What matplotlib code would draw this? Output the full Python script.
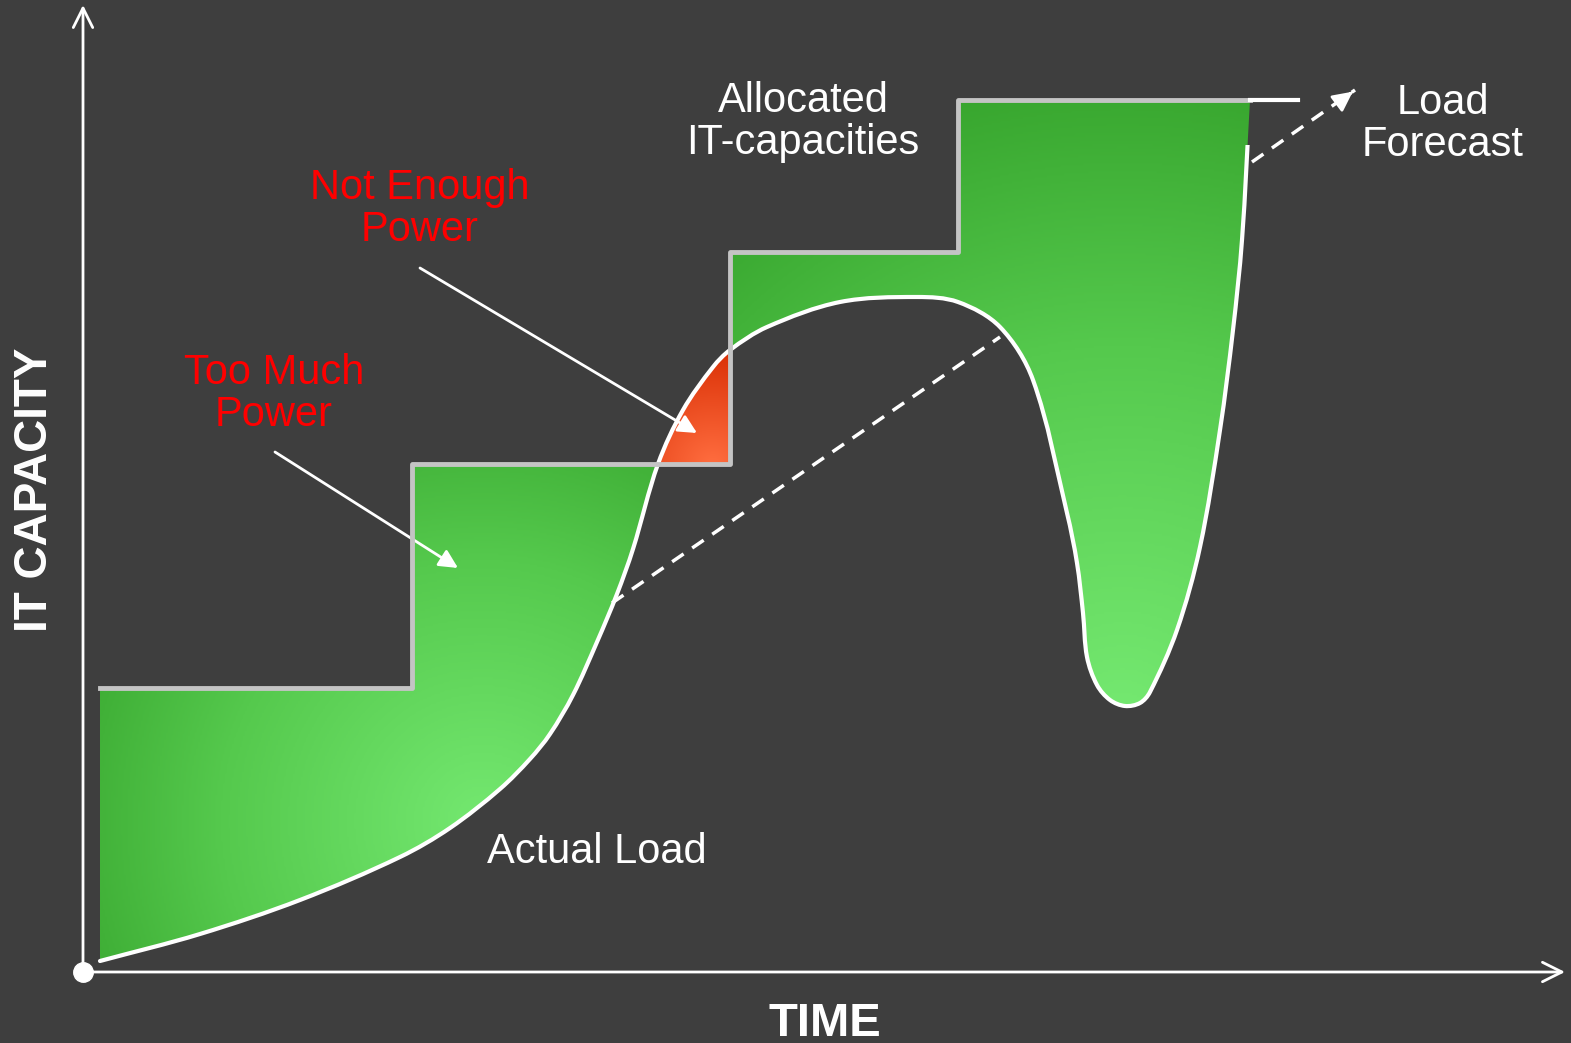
import matplotlib
matplotlib.use('Agg')
import matplotlib.pyplot as plt
import numpy as np
from matplotlib.colors import LinearSegmentedColormap
from matplotlib.patches import PathPatch, Rectangle
from matplotlib.path import Path

plt.rcParams['font.family'] = ['Liberation Sans', 'DejaVu Sans']

# actual load (time, capacity)
load_t = np.array([17, 117, 217, 317, 367, 417, 447, 467, 490, 514, 534, 550, 575,
                   600, 630, 647, 684, 757, 834, 875, 917, 950, 984,
                   994, 1000, 1004, 1014, 1027, 1042, 1057, 1067, 1094, 1117, 1137, 1150,
                   1159, 1167])
load_c = np.array([11, 38, 72, 115, 144, 183, 213, 238, 277, 330, 378, 423, 508,
                   562, 605, 622, 645, 670, 675, 670, 645, 592, 459,
                   409, 359, 315, 287, 272, 266, 269, 280, 342, 425, 542, 642,
                   732, 872])
load_line_top = 827  # white load line stops where the forecast starts

# allocated IT capacity (steps)
step_t = [17, 329, 329, 647, 647, 875, 875, 1167]
step_c = [284, 284, 508, 508, 720, 720, 872, 872]
step_end_t = [1167, 1215]

# load forecast
fc_t = [529, 917]
fc_c = [369, 635]
fc2_t = [1169, 1272]
fc2_c = [810, 882]

bg = '#3e3e3e'
fig = plt.figure(figsize=(15.71, 10.43), dpi=100)
fig.patch.set_facecolor(bg)
ax = fig.add_axes([0, 0, 1, 1])
ax.set_facecolor(bg)
ax.axis('off')

P = np.column_stack([load_t, load_c]).astype(float)
n = len(P)
s = np.concatenate([[0], np.cumsum(np.hypot(*np.diff(P, axis=0).T))])
m = np.zeros_like(P)
m[1:-1] = (P[2:] - P[:-2]) / (s[2:] - s[:-2])[:, None]
m[0] = (P[1] - P[0]) / (s[1] - s[0])
m[-1] = (P[-1] - P[-2]) / (s[-1] - s[-2])


def ctrl(i):
    # bezier handles for the smooth curve between point i and i+1
    h = s[i + 1] - s[i]
    return P[i] + m[i] * h / 3, P[i + 1] - m[i + 1] * h / 3


def curve(i0, i1, reverse=False):
    verts = []
    if not reverse:
        for i in range(i0, i1):
            c1, c2 = ctrl(i)
            verts += [c1, c2, P[i + 1]]
    else:
        for i in range(i1 - 1, i0 - 1, -1):
            c1, c2 = ctrl(i)
            verts += [c2, c1, P[i]]
    return verts


def make_path(start, lines, curv, tail=()):
    verts = [start] + list(lines) + curv + list(tail)
    codes = [Path.MOVETO] + [Path.LINETO] * len(lines) + [Path.CURVE4] * len(curv) + [Path.LINETO] * len(tail)
    return Path(np.array(verts, float), codes)


def grad_fill(path, cmap, light, edge='none'):
    patch = PathPatch(path, facecolor='none', edgecolor=edge, lw=1.5, zorder=3)
    ax.add_patch(patch)
    v = path.vertices
    t0, t1 = v[:, 0].min(), v[:, 0].max()
    c0, c1 = v[:, 1].min(), v[:, 1].max()
    tt, cc = np.meshgrid(np.linspace(t0, t1, 300), np.linspace(c0, c1, 300))
    d = np.hypot(tt - light[0], cc - light[1])
    d = d / d.max()
    im = ax.imshow(d, extent=[t0, t1, c0, c1], origin='lower', cmap=cmap,
                   aspect='auto', interpolation='bilinear', zorder=2)
    im.set_clip_path(patch)


greens = LinearSegmentedColormap.from_list('g', ['#74e870', '#55c94d', '#2e9a24'])
reds = LinearSegmentedColormap.from_list('r', ['#ff6d3f', '#d62a00'])

ia = int(np.where(load_t == 575)[0][0])
ib = int(np.where(load_t == 647)[0][0])

# too much power (left)
left = make_path((step_t[0], step_c[0]), [(t, c) for t, c in zip(step_t[1:3], step_c[1:3])] + [P[ia]],
                 curve(0, ia, reverse=True))
grad_fill(left, greens, (400, 150))
# too much power (right)
right = make_path((step_t[4], step_c[4]), [(t, c) for t, c in zip(step_t[5:], step_c[5:])],
                  curve(ib, n - 1, reverse=True))
grad_fill(right, greens, (1040, 250))
# not enough power
red = make_path(P[ia], [], curve(ia, ib), tail=[(647, 508), P[ia]])
grad_fill(red, reds, (630, 505), edge='#ff4a10')

# lines
line = make_path(P[0], [], curve(0, n - 1))
lp = PathPatch(line, facecolor='none', edgecolor='white', lw=3, zorder=4, capstyle='round')
ax.add_patch(lp)
lp.set_clip_path(Rectangle((-100, -100), 2000, load_line_top + 100, transform=ax.transData))
ax.plot(step_t, step_c, color='#c4c4c4', lw=3.5, zorder=4)
ax.plot(step_end_t, [872, 872], color='white', lw=3, zorder=4)
ax.plot(fc_t, fc_c, color='white', lw=2.5, ls=(0, (4, 3)), zorder=4)
ax.plot(fc2_t, fc2_c, color='white', lw=2.5, ls=(0, (4, 3)), zorder=4)
ax.annotate('', xy=(fc2_t[1], fc2_c[1]), xytext=(fc2_t[1] - 8, fc2_c[1] - 6),
            arrowprops=dict(arrowstyle='-|>', color='white', lw=2, mutation_scale=30), zorder=5)

# axes
ax.annotate('', xy=(0, 967), xytext=(0, 0),
            arrowprops=dict(arrowstyle='->', color='white', lw=2, mutation_scale=35, shrinkA=0, shrinkB=0))
ax.annotate('', xy=(1482, 0), xytext=(0, 0),
            arrowprops=dict(arrowstyle='->', color='white', lw=2, mutation_scale=35, shrinkA=0, shrinkB=0))
ax.plot([0], [0], 'o', color='white', ms=14, zorder=5)

# pointers
ax.annotate('', xy=(614, 539), xytext=(337, 704),
            arrowprops=dict(arrowstyle='-|>', color='white', lw=2, mutation_scale=28, shrinkA=0, shrinkB=0))
ax.annotate('', xy=(375, 404), xytext=(192, 520),
            arrowprops=dict(arrowstyle='-|>', color='white', lw=2, mutation_scale=28, shrinkA=0, shrinkB=0))

# texts
ax.text(-48, 482, 'IT CAPACITY', rotation=90, color='white', fontsize=33,
        fontweight='bold', ha='center', va='center')
ax.text(742, -52, 'TIME', color='white', fontsize=34, fontweight='bold', ha='center', va='center')
ax.text(720, 850, 'Allocated\nIT-capacities', color='white', fontsize=30, ha='center',
        va='center', linespacing=1.08)
ax.text(337, 763, 'Not Enough\nPower', color='#ff0000', fontsize=30, ha='center',
        va='center', linespacing=1.08)
ax.text(191, 578, 'Too Much\nPower', color='#ff0000', fontsize=30, ha='center',
        va='center', linespacing=1.08)
ax.text(514, 120, 'Actual Load', color='white', fontsize=30, ha='center', va='center')
ax.text(1360, 848, 'Load\nForecast', color='white', fontsize=30, ha='center',
        va='center', linespacing=1.08)

ax.set_xlim(-83, 1488)
ax.set_ylim(-71, 972)

fig.savefig('out.png', dpi=100, facecolor=bg)
